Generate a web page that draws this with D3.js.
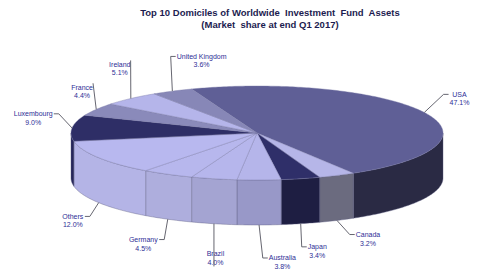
<!DOCTYPE html>
<html>
<head>
<meta charset="utf-8">
<script src="https://cdn.jsdelivr.net/npm/d3@7/dist/d3.min.js"></script>
<style>
  html, body { margin: 0; padding: 0; background: #fff; }
  svg { display: block; }
  text { font-family: "Liberation Sans", Arial, sans-serif; white-space: pre; }
</style>
</head>
<body>
<script>
// ---------- data ----------
const categories = ["USA", "Canada", "Japan", "Australia", "Brazil", "Germany",
                    "Others", "Luxembourg", "France", "Ireland", "United Kingdom"];
const shares = [47.1, 3.2, 3.4, 3.8, 4.0, 4.5, 12.0, 9.0, 4.4, 5.1, 3.6];
const titleLines = ["Top 10 Domiciles of Worldwide  Investment  Fund  Assets",
                    "(Market  share at end Q1 2017)"];

// ---------- styles / layout ----------
const topColors  = ["#5f5f96", "#b6b6e8", "#2f2f69", "#b5b5ea", "#b6b6ec", "#b7b7ed",
                    "#b8b8ef", "#2e2e66", "#8a8aba", "#b5b5ea", "#8787b7"];
const sideColors = ["#2a2a44", "#6b6b7f", "#1e1e42", "#9898c8", "#a4a4d2", "#aeaedd",
                    "#b4b4e6", "#26265a", "#6a6a9a", "#9090c0", "#6a6a9a"];
const labelNudge = [[10, -1], [19, -9], [10, -2], [23, 7], [8, 5], [-11, -2],
                    [-2, 2], [-11, -7], [10, -3], [8, -8], [42, -4]];

const W = 500, H = 276;
const cx = 257, cy = 133, rx = 186, ry = 47, depth = 45;
const startDeg = -20.6;

const svg = d3.select("body").append("svg").attr("width", W).attr("height", H);
svg.append("rect").attr("width", W).attr("height", H).attr("fill", "#fff");

// title
svg.append("g").selectAll("text").data(titleLines).join("text")
  .attr("x", 270).attr("y", (d, i) => 16 + i * 12)
  .attr("text-anchor", "middle")
  .attr("font-size", 9.5).attr("font-weight", "bold")
  .attr("fill", "#1c1c50")
  .text(d => d);

const a0 = startDeg * Math.PI / 180;
const pie = d3.pie().sort(null).value(d => d).startAngle(a0).endAngle(a0 + 2 * Math.PI);
const arcs = pie(shares);

function ellPt(a, dy) { return [cx + rx * Math.sin(a), cy - ry * Math.cos(a) + (dy || 0)]; }
function arcPts(s, e, dy) {
  const n = Math.max(2, Math.ceil(Math.abs(e - s) / 0.015));
  return d3.range(n + 1).map(i => ellPt(s + (e - s) * i / n, dy));
}
const line = d3.line();

// sides (front half only)
const sideG = svg.append("g");
arcs.forEach((d, i) => {
  const b0 = Math.max(d.startAngle, Math.PI / 2);
  const b1 = Math.min(d.endAngle, 3 * Math.PI / 2);
  if (b1 > b0) {
    const pts = arcPts(b0, b1, 0).concat(arcPts(b1, b0, depth));
    sideG.append("path").attr("d", line(pts) + "Z")
      .attr("fill", sideColors[i]).attr("stroke", "#5a5a80").attr("stroke-width", 0.4);
  }
});

// tops
const topG = svg.append("g");
arcs.forEach((d, i) => {
  const pts = [[cx, cy]].concat(arcPts(d.startAngle, d.endAngle, 0));
  topG.append("path").attr("d", line(pts) + "Z")
    .attr("fill", topColors[i]).attr("stroke", "#7a7aa6").attr("stroke-width", 0.4)
    .attr("stroke-linejoin", "round");
});

// labels + leaders
const labG = svg.append("g");
const leadG = svg.append("g");
arcs.forEach((d, i) => {
  const mid = (d.startAngle + d.endAngle) / 2;
  const s = Math.sin(mid), c = -Math.cos(mid);
  const front = c > 0;
  const P = ellPt(mid, front ? depth : 0);
  const Lx = cx + (rx + 28) * s + labelNudge[i][0];
  const Ly = cy + (ry + 30) * c + (front ? depth : 0) + labelNudge[i][1];
  const t = labG.append("text").attr("text-anchor", "middle")
    .attr("font-size", 7).attr("fill", "#2e2e96");
  t.append("tspan").attr("x", Lx).attr("y", Ly - 1.5).text(categories[i]);
  t.append("tspan").attr("x", Lx).attr("y", Ly + 7).text(shares[i].toFixed(1) + "%");
  const bb = t.node().getBBox();
  const x0 = bb.x, x1 = bb.x + bb.width, y0 = bb.y, y1 = bb.y + bb.height;
  let pts;
  if (P[0] >= x0 - 4 && P[0] <= x1 + 4) {
    const tx = Math.max(x0, Math.min(x1, P[0]));
    pts = [P, [tx, P[1] < Ly ? y1 + 0.5 : y0 - 0.5]];
  } else {
    const left = P[0] < x0;
    const ex = left ? x0 - 1 : x1 + 1;
    const ty = Ly - 4;
    pts = [P, [ex + (left ? -5 : 5), ty], [ex, ty]];
  }
  leadG.append("path").attr("d", line(pts)).attr("fill", "none")
    .attr("stroke", "#555560").attr("stroke-width", 0.9);
});
</script>
</body>
</html>
